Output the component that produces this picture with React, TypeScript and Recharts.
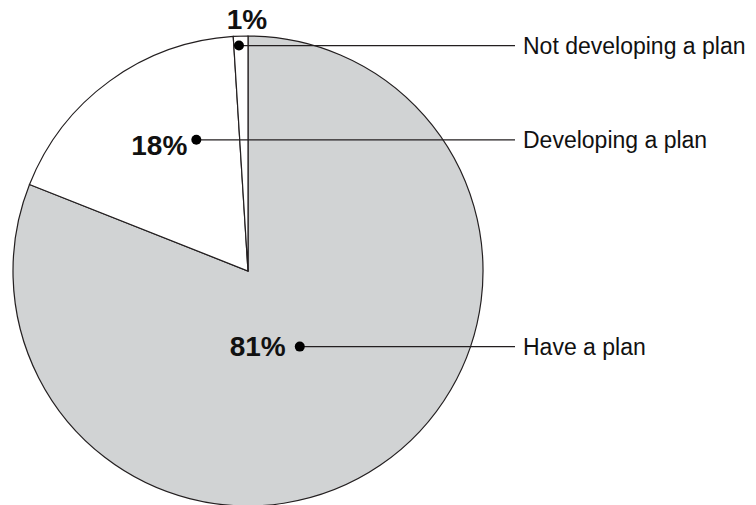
import { PieChart, Pie, Cell } from 'recharts'

const categories = ['Have a plan', 'Developing a plan', 'Not developing a plan']
const shares = [81, 18, 1]
const fills = ['#d1d3d4', '#ffffff', '#ffffff']

// where each callout dot sits, relative to the slice's mid angle / radius
const calloutAngleShift = [0.2, -14.5, 0.5]
const calloutRadius = [0.39, 0.6, 0.96]
const pctPlacement = ['left', 'left', 'top']
const pctGap = [14, 9, 0]

const data = categories.map((name, i) => ({ name, value: shares[i] }))

const RAD = Math.PI / 180
const LINE_END = 515
const TEXT_X = 523

function Callout(props: any) {
  const { cx, cy, midAngle, outerRadius, index } = props
  const angle = midAngle + calloutAngleShift[index]
  const r = outerRadius * calloutRadius[index]
  const x = cx + Math.cos(-angle * RAD) * r
  const y = cy + Math.sin(-angle * RAD) * r
  const pct = `${shares[index]}%`
  const top = pctPlacement[index] === 'top'
  return (
    <g>
      <line x1={x} y1={y} x2={LINE_END} y2={y} stroke="#231f20" strokeWidth={1.2} />
      <circle cx={x} cy={y} r={5} fill="#000" />
      <text
        x={top ? x + 8 : x - pctGap[index]}
        y={top ? y - 17 : y + (index === 0 ? 9 : 15)}
        textAnchor={top ? 'middle' : 'end'}
        fontSize={28}
        fontWeight="bold"
        fill="#111"
      >
        {pct}
      </text>
      <text x={TEXT_X} y={y + 8} fontSize={23} fill="#111">
        {categories[index]}
      </text>
    </g>
  )
}

export default function App() {
  return (
    <div
      style={{
        position: 'fixed',
        top: 0,
        left: 0,
        width: 756,
        height: 505,
        background: '#fff',
        fontFamily: '"Liberation Sans", Arial, Helvetica, sans-serif',
      }}
    >
      <PieChart width={756} height={505} margin={{ top: 0, right: 0, bottom: 0, left: 0 }}>
        <Pie
          data={data}
          dataKey="value"
          nameKey="name"
          cx={248}
          cy={271}
          outerRadius={235}
          startAngle={90}
          endAngle={-270}
          stroke="#231f20"
          strokeWidth={1.2}
          label={Callout}
          labelLine={false}
          isAnimationActive={false}
        >
          {data.map((d, i) => (
            <Cell key={d.name} fill={fills[i]} />
          ))}
        </Pie>
      </PieChart>
    </div>
  )
}
